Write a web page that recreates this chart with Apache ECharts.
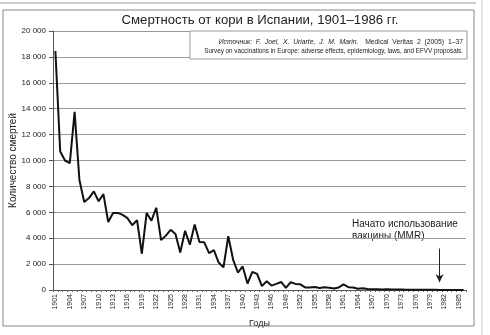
<!DOCTYPE html>
<html>
<head>
<meta charset="utf-8">
<script src="https://cdn.jsdelivr.net/npm/echarts@6/dist/echarts.min.js"></script>
<style>
  html, body { margin: 0; padding: 0; background: #fff; }
  #chart { width: 490px; height: 335px; }
</style>
</head>
<body>
<div id="chart"></div>
<script>
// годы 1901-1986
const years = [
  '1901','1902','1903','1904','1905','1906','1907','1908','1909','1910',
  '1911','1912','1913','1914','1915','1916','1917','1918','1919','1920',
  '1921','1922','1923','1924','1925','1926','1927','1928','1929','1930',
  '1931','1932','1933','1934','1935','1936','1937','1938','1939','1940',
  '1941','1942','1943','1944','1945','1946','1947','1948','1949','1950',
  '1951','1952','1953','1954','1955','1956','1957','1958','1959','1960',
  '1961','1962','1963','1964','1965','1966','1967','1968','1969','1970',
  '1971','1972','1973','1974','1975','1976','1977','1978','1979','1980',
  '1981','1982','1983','1984','1985','1986'
]

// смерти от кори
const deaths = [
  18450, 10700, 10000, 9800, 13750, 8500, 6800, 7100, 7620, 6850,
  7400, 5250, 5950, 5950, 5800, 5550, 5000, 5400, 2800, 5950,
  5350, 6350, 3850, 4200, 4650, 4320, 2900, 4570, 3500, 5050,
  3700, 3680, 2850, 3080, 2120, 1750, 4150, 2350, 1350, 1820,
  500, 1400, 1250, 300, 680, 340, 470, 620, 160, 600,
  470, 440, 200, 190, 230, 160, 210, 170, 110, 200,
  430, 220, 190, 100, 130, 80, 60, 55, 45, 50,
  40, 30, 35, 25, 20, 20, 15, 15, 10, 10,
  8, 8, 6, 5, 5, 4
]

// стрелка: начало MMR
const mmrYear = '1981'
const arrowFrom = 3200
const arrowTo = 600

const font = '"Liberation Sans", Arial, sans-serif'

const chart = echarts.init(document.getElementById('chart'))

const option = {
  animation: false,
  backgroundColor: '#fff',
  textStyle: { fontFamily: font },
  grid: { left: 53, right: 24, top: 31, bottom: 45, outerBoundsMode: 'none' },
  xAxis: {
    type: 'category',
    data: years,
    boundaryGap: true,
    name: 'Годы',
    nameLocation: 'middle',
    nameGap: 29,
    nameMoveOverlap: false,
    nameTextStyle: { fontSize: 9, color: '#222' },
    axisLine: { lineStyle: { color: '#555', width: 1 } },
    axisTick: { show: true, interval: 0, length: 2, lineStyle: { color: '#666' } },
    axisLabel: { interval: 2, rotate: 90, fontSize: 7, color: '#222', margin: 4 }
  },
  yAxis: {
    type: 'value',
    min: 0,
    max: 20000,
    interval: 2000,
    name: 'Количество смертей',
    nameLocation: 'middle',
    nameRotate: 90,
    nameGap: 35,
    nameMoveOverlap: false,
    nameTextStyle: { fontSize: 10, color: '#222' },
    axisLine: { show: true, lineStyle: { color: '#555', width: 1 } },
    axisTick: { show: true, length: 4, lineStyle: { color: '#555' } },
    axisLabel: {
      fontSize: 8,
      color: '#222',
      margin: 7,
      formatter: v => String(v).replace(/\B(?=(\d{3})+(?!\d))/g, ' ')
    },
    splitLine: { lineStyle: { color: '#999', width: 1 } }
  },
  series: [
    {
      type: 'line',
      data: deaths,
      showSymbol: false,
      lineStyle: { color: '#111', width: 2 },
      z: 3,
      markLine: {
        silent: true,
        symbol: ['none', 'arrow'],
        symbolSize: [6, 8],
        label: { show: false },
        lineStyle: { color: '#222', width: 1, type: 'solid' },
        data: [[{ coord: [mmrYear, arrowFrom] }, { coord: [mmrYear, arrowTo] }]]
      }
    }
  ],
  graphic: [
    // рамка
    {
      type: 'rect',
      shape: { x: 3, y: 10, width: 471, height: 316 },
      style: { fill: 'none', stroke: '#888', lineWidth: 1 },
      silent: true
    },
    {
      type: 'line',
      shape: { x1: 0, y1: 3, x2: 476, y2: 3 },
      style: { stroke: '#999', lineWidth: 1 },
      silent: true
    },
    {
      type: 'line',
      shape: { x1: 482, y1: 0, x2: 482, y2: 335 },
      style: { stroke: '#ccc', lineWidth: 1 },
      silent: true
    },
    // источник
    {
      type: 'rect',
      shape: { x: 190, y: 31, width: 277, height: 28 },
      style: { fill: '#fff', stroke: '#999', lineWidth: 1 },
      z: 10,
      silent: true
    },
    {
      type: 'text',
      x: 463,
      y: 42,
      z: 11,
      style: {
        text: '{i|Источник:  F.  Joel,  X.  Uriarte,  J.  M.  Marin.}  {n|Medical  Veritas  2  (2005)  1–37}',
        align: 'right',
        verticalAlign: 'middle',
        rich: {
          i: { fontStyle: 'italic', fontSize: 6.8, fontFamily: font, fill: '#222' },
          n: { fontSize: 6.8, fontFamily: font, fill: '#222' }
        }
      }
    },
    {
      type: 'text',
      x: 463,
      y: 51,
      z: 11,
      style: {
        text: 'Survey on vaccinations in Europe: adverse effects, epidemiology, laws, and EFVV proposals.',
        align: 'right',
        verticalAlign: 'middle',
        fontSize: 6.3,
        fontFamily: font,
        fill: '#222'
      }
    },
    // заголовок
    {
      type: 'text',
      x: 260,
      y: 20,
      style: {
        text: 'Смертность от кори в Испании, 1901–1986 гг.',
        align: 'center',
        verticalAlign: 'middle',
        fontSize: 13.2,
        fontFamily: font,
        fill: '#222'
      }
    },
    // подпись к стрелке
    {
      type: 'text',
      x: 352,
      y: 218,
      style: {
        text: 'Начато использование\nвакцины (MMR)',
        fontSize: 10,
        lineHeight: 12,
        fontFamily: font,
        fill: '#222'
      }
    }
  ]
}

chart.setOption(option)
</script>
</body>
</html>
